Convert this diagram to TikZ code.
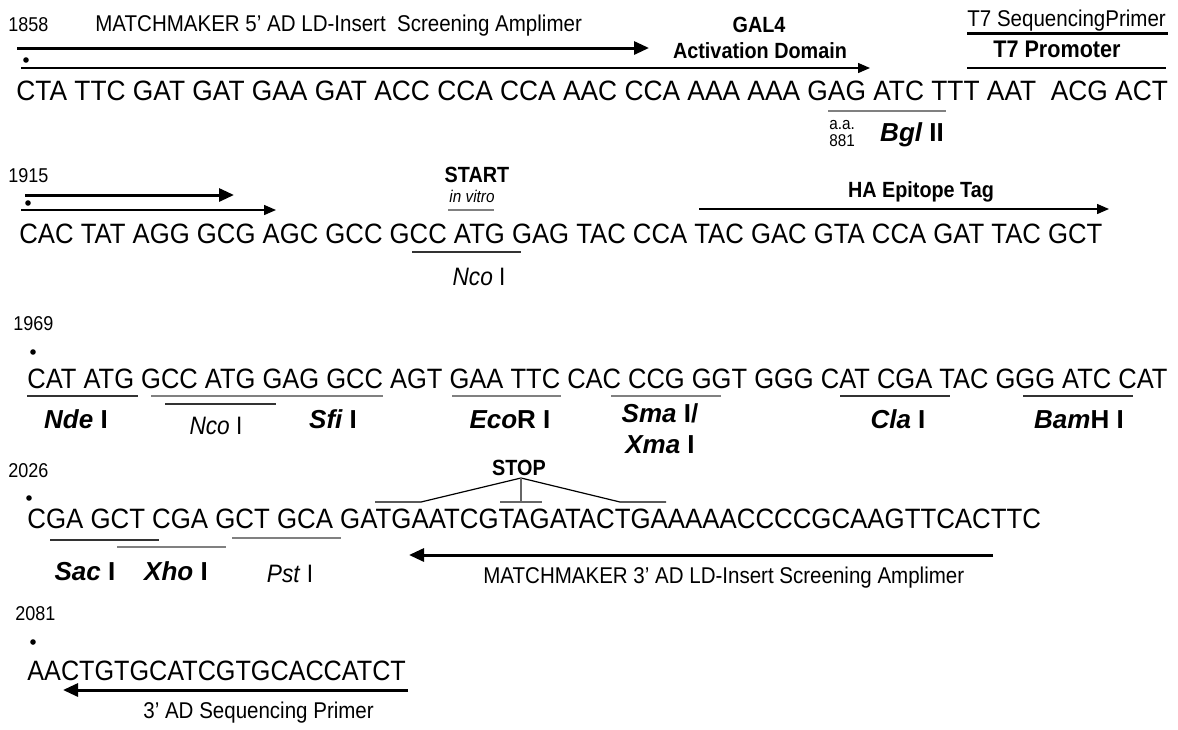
\documentclass[tikz,border=0pt]{standalone}
\usepackage{fontspec}
\setmainfont{Liberation Sans}[FakeStretch=0.9]
\newfontfamily\enzfont{Liberation Sans}
\usetikzlibrary{arrows.meta}
\newcommand{\enz}[2]{{\enzfont\bfseries\itshape #1}{\enzfont\bfseries #2}}

\begin{document}
\begin{tikzpicture}[x=0.5pt, y=-0.5pt,
  seq/.style = {anchor=base west, inner sep=0pt, font=\fontsize{14}{16}\selectfont},
  num/.style = {anchor=base west, inner sep=0pt, font=\fontsize{10}{12}\selectfont},
  note/.style = {anchor=base west, inner sep=0pt, font=\fontsize{11.4}{13}\selectfont},
  head/.style = {anchor=base, inner sep=0pt, font=\bfseries\fontsize{11}{13}\selectfont},
  site/.style = {anchor=base, inner sep=0pt, font=\fontsize{13}{15}\selectfont},
  soft/.style = {anchor=base, inner sep=0pt, font=\fontsize{12.6}{14}\selectfont},
  primer/.style = {line width=1.5pt, -{Triangle[length=7.5pt, width=6.5pt]}},
  region/.style = {line width=0.7pt, -{Triangle[length=6pt, width=5pt]}},
  cut/.style = {line width=0.9pt, black!80},
  cutgray/.style = {line width=0.9pt, black!50}]

	\fill[white] (0,0) rectangle (1178,729);
	\useasboundingbox (0,0) rectangle (1178,729);

	% first line, 1858
	\node[num] (n1858) at (8,31) {1858};
	\node[note] (mm5) at (95,31) {MATCHMAKER 5' AD LD-Insert\ \ Screening Amplimer};
	\draw[primer] (17,48) -- (649,48);
	\fill (26,60) circle[radius=1.4pt];
	\draw[region] (21,68) -- (870,68);
	\node[head] (gal4) at (759,32) {GAL4};
	\node[head] (actdom) at (760,58) {Activation Domain};
	\node[note] (t7seq) at (967,26) {T7 SequencingPrimer};
	\draw[line width=1.5pt] (967,33) -- (1168,33);
	\node[head, font=\bfseries\fontsize{12}{14}\selectfont] (t7prom) at (1057,57) {T7 Promoter};
	\draw[line width=0.7pt] (967,68) -- (1166,68);
	\node[seq] (rowA) at (16,100) {\scalebox{1.045}[1]{CTA TTC GAT GAT GAA GAT ACC CCA CCA AAC CCA AAA AAA GAG ATC TTT AAT\ \ ACG ACT}};
	\draw[cutgray] (828,111) -- (946,111);
	\node[num, font=\fontsize{8.5}{10}\selectfont] (aa) at (829,129) {a.a.};
	\node[num, font=\fontsize{8.5}{10}\selectfont] (n881) at (829,146) {881};
	\node[site] (bgl) at (912,141) {\enz{Bgl}{ II}};

	% second line, 1915
	\node[num] (n1915) at (8,182) {1915};
	\draw[primer] (25,195) -- (234,195);
	\fill (28,203) circle[radius=1.4pt];
	\draw[region] (21,210) -- (276,210);
	\node[head] (start) at (477,182) {START};
	\node[anchor=base, inner sep=0pt, font=\itshape\fontsize{8.5}{10}\selectfont] (invitro) at (472,202) {in vitro};
	\draw[cutgray, line width=0.6pt] (448,210) -- (494,210);
	\node[head] (hatag) at (921,197) {HA Epitope Tag};
	\draw[region] (699,209) -- (1109,209);
	\node[seq] (rowB) at (19,243) {\scalebox{1.02}[1]{CAC TAT AGG GCG AGC GCC GCC ATG GAG TAC CCA TAC GAC GTA CCA GAT TAC GCT}};
	\draw[cut] (412,252) -- (521,252);
	\node[soft] (ncoA) at (479,285) {\textit{Nco} I};

	% third line, 1969
	\node[num] (n1969) at (13,330) {1969};
	\fill (33,352) circle[radius=1.4pt];
	\node[seq] (rowC) at (27,388) {\scalebox{1.012}[1]{CAT ATG GCC ATG GAG GCC AGT GAA TTC CAC CCG GGT GGG CAT CGA TAC GGG ATC CAT}};
	\draw[cut] (27,396) -- (138,396);
	\draw[cutgray] (151,396) -- (383,396);
	\draw[cut, line width=0.6pt] (165,404) -- (276,404);
	\draw[cutgray] (452,396) -- (561,396);
	\draw[cutgray] (611,396) -- (721,396);
	\draw[cut] (840,396) -- (950,396);
	\draw[cut] (1023,396) -- (1133,396);
	\node[site] (nde) at (76,428) {\enz{Nde}{ I}};
	\node[soft] (ncoB) at (216,434) {\textit{Nco} I};
	\node[site] (sfi) at (333,428) {\enz{Sfi}{ I}};
	\node[site] (ecor) at (510,428) {\enz{Eco}{R I}};
	\node[site] (sma) at (660,422) {\enz{Sma}{ I/}};
	\node[site] (xma) at (660,453) {\enz{Xma}{ I}};
	\node[site] (cla) at (898,428) {\enz{Cla}{ I}};
	\node[site] (bamh) at (1079,428) {\enz{Bam}{H I}};

	% fourth line, 2026
	\node[num] (n2026) at (8,477) {2026};
	\node[head] (stop) at (519,475) {STOP};
	\draw[line width=0.6pt] (375,502) -- (421,502) -- (521,478) -- (620,502) -- (666,502);
	\draw[line width=0.6pt, black!60] (521,478) -- (521,502) (500,502) -- (542,502);
	\fill (29,498) circle[radius=1.4pt];
	\node[seq] (rowD) at (27,528) {\scalebox{1.025}[1]{CGA GCT CGA GCT GCA GATGAATCGTAGATACTGAAAAACCCCGCAAGTTCACTTC}};
	\draw[cut] (50,540) -- (159,540);
	\draw[cutgray] (117,547) -- (226,547);
	\draw[cutgray] (232,538) -- (341,538);
	\draw[primer] (993,555) -- (409,555);
	\node[site] (sac) at (85,580) {\enz{Sac}{ I}};
	\node[site] (xho) at (176,580) {\enz{Xho}{ I}};
	\node[soft] (pst) at (290,582) {\textit{Pst} I};
	\node[note] (mm3) at (483,583) {MATCHMAKER 3' AD LD-Insert Screening Amplimer};

	% last line, 2081
	\node[num] (n2081) at (15,620) {2081};
	\fill (33,642) circle[radius=1.4pt];
	\node[seq] (rowE) at (27,680) {AACTGTGCATCGTGCACCATCT};
	\draw[primer] (408,690) -- (63,690);
	\node[note] (sp3) at (143,718) {3' AD Sequencing Primer};
\end{tikzpicture}
\end{document}
